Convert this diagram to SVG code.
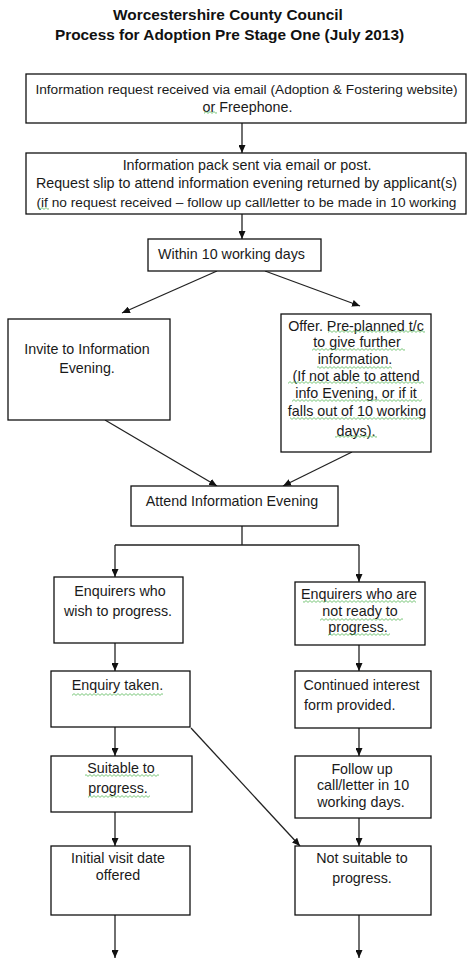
<svg xmlns="http://www.w3.org/2000/svg" width="467" height="959" viewBox="0 0 467 959">
<style>
  .box { fill: #fff; stroke: #111; stroke-width: 1.3; }
  .t { font-family: "Liberation Sans", Arial, sans-serif; font-size: 14.3px; fill: #1a1a1a; text-anchor: middle; }
  .s { font-size: 13.7px; }
  .l { text-anchor: start; }
  .title { font-family: "Liberation Sans", Arial, sans-serif; font-size: 15.4px; font-weight: bold; fill: #111; text-anchor: middle; }
  .c { stroke: #222; stroke-width: 1.3; fill: none; }
  .a { marker-end: url(#arr); }
  .sq { fill: url(#squig); }
</style>
<defs>
  <marker id="arr" markerUnits="userSpaceOnUse" markerWidth="8" markerHeight="7" refX="8" refY="3.5" orient="auto">
    <path d="M0,0 L8,3.5 L0,7 z" fill="#111"/>
  </marker>
  <pattern id="squig" patternUnits="userSpaceOnUse" width="4" height="3">
    <path d="M0,2.4 L2,0.6 L4,2.4" fill="none" stroke="#58b858" stroke-width="0.8"/>
  </pattern>
</defs>
<rect width="467" height="959" fill="#fff"/>

<g id="title">
  <text class="title" x="228" y="19.5">Worcestershire County Council</text>
  <text class="title" x="229.5" y="39.5">Process for Adoption Pre  Stage One (July 2013)</text>
</g>

<g id="connectors">
  <line class="c a" x1="242" y1="123" x2="242" y2="153"/>
  <line class="c a" x1="242" y1="214" x2="242" y2="239"/>
  <line class="c a" x1="217" y1="271" x2="122" y2="313"/>
  <line class="c a" x1="265" y1="271" x2="360" y2="306"/>
  <line class="c a" x1="105" y1="420" x2="217" y2="486"/>
  <line class="c a" x1="352" y1="452" x2="283" y2="486"/>
  <path class="c" d="M242,526 V545 M115,545 H359"/>
  <line class="c a" x1="115" y1="545" x2="115" y2="577"/>
  <line class="c a" x1="359" y1="545" x2="359" y2="582"/>
  <line class="c a" x1="115" y1="643" x2="115" y2="671"/>
  <line class="c a" x1="359" y1="645" x2="359" y2="671"/>
  <line class="c a" x1="115" y1="727" x2="115" y2="756"/>
  <line class="c a" x1="359" y1="728" x2="359" y2="756"/>
  <line class="c a" x1="191" y1="728" x2="300" y2="846"/>
  <line class="c a" x1="115" y1="812" x2="115" y2="846"/>
  <line class="c a" x1="359" y1="818" x2="359" y2="846"/>
  <line class="c a" x1="115" y1="915" x2="115" y2="958"/>
  <line class="c a" x1="359" y1="915" x2="359" y2="958"/>
</g>

<g id="n1">
  <rect class="box" x="26" y="74" width="440" height="49"/>
  <text class="t s" x="246.5" y="94">Information request received via email (Adoption &amp; Fostering website)</text>
  <text class="t" x="247.5" y="111.5">or Freephone.</text>
  <rect class="sq" x="204" y="111" width="13" height="3"/>
</g>

<g id="n2">
  <rect class="box" x="26" y="153" width="440" height="61"/>
  <text class="t" x="247" y="170">Information pack sent via email or post.</text>
  <text class="t" x="246.5" y="188">Request slip to attend information evening returned by applicant(s)</text>
  <text class="t s" x="246.5" y="206.5">(if no request received – follow up call/letter to be made in 10 working</text>
  <rect class="sq" x="38" y="207" width="11" height="3"/>
</g>

<g id="n3">
  <rect class="box" x="148" y="239" width="173" height="32"/>
  <text class="t" x="231.5" y="259">Within 10 working days</text>
</g>

<g id="n4">
  <rect class="box" x="8" y="319" width="162" height="101"/>
  <text class="t" x="87" y="354">Invite to Information</text>
  <text class="t" x="87" y="373">Evening.</text>
</g>

<g id="n5">
  <rect class="box" x="281" y="314" width="150" height="138"/>
  <text class="t" x="356" y="331">Offer. Pre-planned t/c</text>
  <text class="t" x="357" y="347">to give further</text>
  <text class="t" x="355" y="364">information.</text>
  <text class="t" x="356" y="381">(If not able to attend</text>
  <text class="t" x="356" y="398">info Evening, or if it</text>
  <text class="t" x="357" y="416">falls out of 10 working</text>
  <text class="t" x="356" y="436">days).</text>
  <rect class="sq" x="328" y="330" width="97" height="3"/>
  <rect class="sq" x="312" y="348" width="93" height="3"/>
  <rect class="sq" x="317" y="366" width="75" height="3"/>
  <rect class="sq" x="288" y="381" width="136" height="3"/>
  <rect class="sq" x="292" y="399" width="130" height="3"/>
  <rect class="sq" x="290" y="417" width="134" height="3"/>
  <rect class="sq" x="335" y="435" width="42" height="3"/>
</g>

<g id="n6">
  <rect class="box" x="131" y="486" width="207" height="40"/>
  <text class="t" x="232" y="506">Attend Information Evening</text>
</g>

<g id="n7">
  <rect class="box" x="54" y="577" width="129" height="66"/>
  <text class="t" x="120" y="596">Enquirers who</text>
  <text class="t" x="118" y="616">wish to progress.</text>
</g>

<g id="n8">
  <rect class="box" x="295" y="582" width="130" height="63"/>
  <text class="t" x="359" y="599">Enquirers who are</text>
  <text class="t" x="360" y="616">not ready to</text>
  <text class="t" x="358" y="632">progress.</text>
  <rect class="sq" x="303" y="600" width="113" height="3"/>
  <rect class="sq" x="320" y="618" width="83" height="3"/>
  <rect class="sq" x="328" y="633" width="62" height="3"/>
</g>

<g id="n9">
  <rect class="box" x="51" y="671" width="139" height="56"/>
  <text class="t" x="117.5" y="690">Enquiry taken.</text>
  <rect class="sq" x="72" y="693" width="91" height="3"/>
</g>

<g id="n10">
  <rect class="box" x="295" y="671" width="136" height="57"/>
  <text class="t l" x="303.5" y="690">Continued interest</text>
  <text class="t l" x="304" y="710">form provided.</text>
</g>

<g id="n11">
  <rect class="box" x="51" y="756" width="141" height="56"/>
  <text class="t" x="121" y="773">Suitable to</text>
  <text class="t" x="118" y="793">progress.</text>
  <rect class="sq" x="85" y="774" width="74" height="3"/>
  <rect class="sq" x="88" y="795" width="62" height="3"/>
</g>

<g id="n12">
  <rect class="box" x="295" y="756" width="136" height="62"/>
  <text class="t" x="362" y="774">Follow up</text>
  <text class="t" x="363" y="790">call/letter in 10</text>
  <text class="t" x="361" y="807">working days.</text>
</g>

<g id="n13">
  <rect class="box" x="51" y="846" width="139" height="69"/>
  <text class="t" x="118" y="863">Initial visit date</text>
  <text class="t" x="118" y="880">offered</text>
</g>

<g id="n14">
  <rect class="box" x="295" y="846" width="136" height="69"/>
  <text class="t" x="362" y="863">Not suitable to</text>
  <text class="t" x="362" y="883">progress.</text>
</g>
</svg>
